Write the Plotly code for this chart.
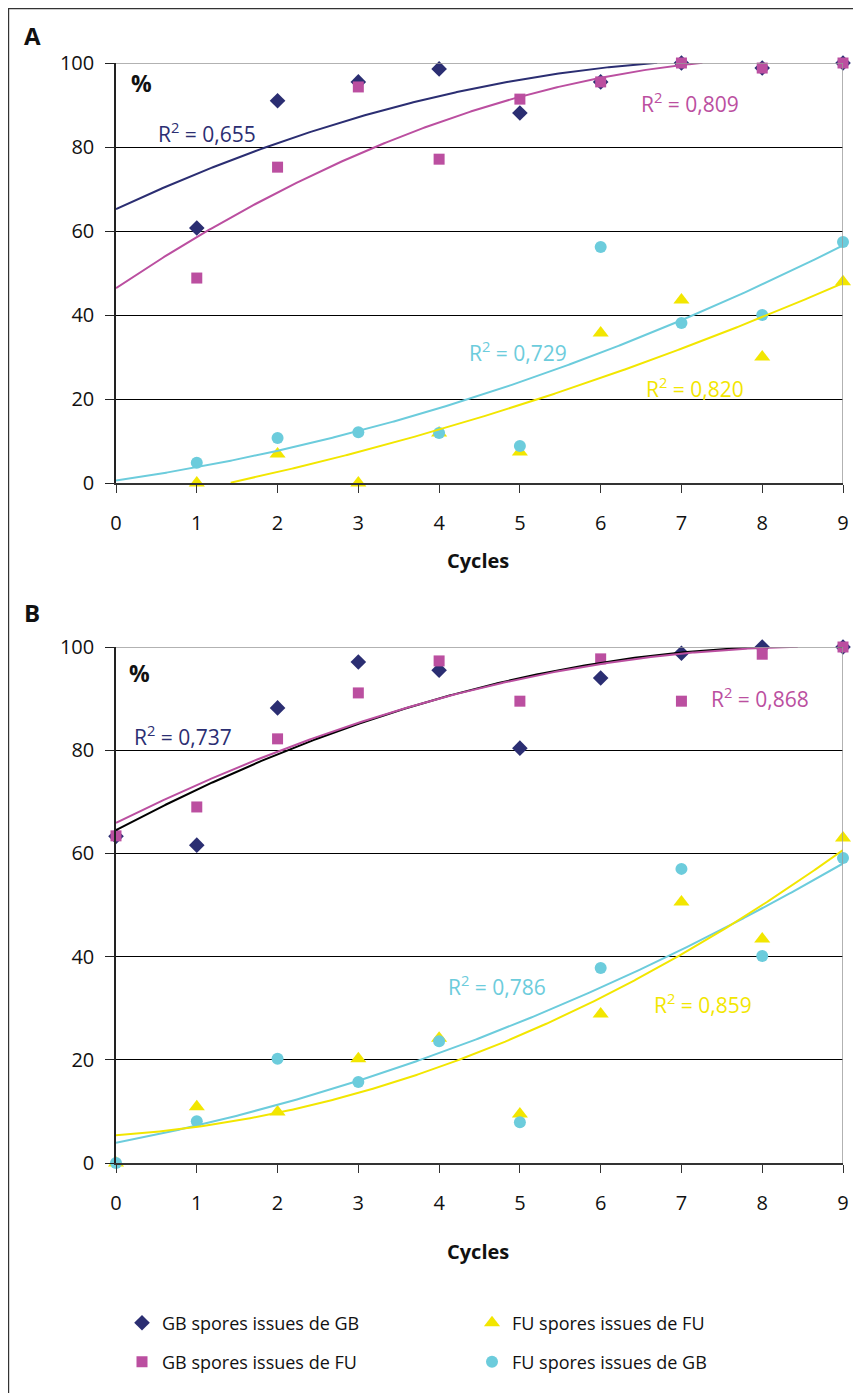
import numpy as np
import plotly.graph_objects as go

# ---------------- data ----------------
cycles_A = [1, 2, 3, 4, 5, 6, 7, 8, 9]
A_gb_gb = [60.7, 91.0, 95.5, 98.6, 88.1, 95.5, 100, 98.8, 100]
A_gb_fu = [48.8, 75.2, 94.3, 77.1, 91.4, 95.5, 100, 98.8, 100]
A_fu_fu = [0, 6.9, 0, 11.9, 7.4, 35.7, 43.6, 30.0, 47.9]
A_fu_gb = [4.8, 10.7, 12.1, 11.9, 8.8, 56.2, 38.1, 40.0, 57.4]

cycles_B = [0, 1, 2, 3, 4, 5, 6, 7, 8, 9]
B_gb_gb = [63.3, 61.6, 88.2, 97.1, 95.5, 80.4, 94.0, 98.8, 100, 100]
B_gb_fu = [63.4, 69.0, 82.2, 91.1, 97.3, 89.5, 97.7, 89.5, 98.6, 100]
B_fu_fu = [0, 10.9, 9.9, 20.2, 24.2, 9.5, 28.9, 50.6, 43.4, 63.0]
B_fu_gb = [0, 8.1, 20.2, 15.7, 23.6, 7.9, 37.8, 57.0, 40.1, 59.1]

# polynomial (order 2) trend-line coefficients [a, b, c]
trend_A_gb_gb = [-0.567, 9.00, 65.2]
trend_A_gb_fu = [-0.762, 12.92, 46.4]
trend_A_fu_gb = [0.383, 2.77, 0.6]
trend_A_fu_fu = [0.275, 3.40, -5.3]
trend_B_gb_gb = [-0.487, 8.33, 64.5]
trend_B_gb_fu = [-0.446, 7.81, 65.9]
trend_B_fu_gb = [0.334, 3.01, 3.9]
trend_B_fu_fu = [0.569, 1.02, 5.4]

r2_A = {"gb_gb": "0,655", "gb_fu": "0,809", "fu_gb": "0,729", "fu_fu": "0,820"}
r2_B = {"gb_gb": "0,737", "gb_fu": "0,868", "fu_gb": "0,786", "fu_fu": "0,859"}

x_ticks = list(range(10))
y_ticks = [0, 20, 40, 60, 80, 100]

names = {
    "gb_gb": "GB spores issues de GB",
    "gb_fu": "GB spores issues de FU",
    "fu_fu": "FU spores issues de FU",
    "fu_gb": "FU spores issues de GB",
}

# ---------------- style ----------------
FONT = "Open Sans"
NAVY = "#2B2E72"
MAG = "#BB4FA0"
CYAN = "#6CCCDC"
YEL = "#F2E600"

style = {
    "gb_gb": dict(symbol="diamond", color=NAVY, size=12),
    "gb_fu": dict(symbol="square", color=MAG, size=11),
    "fu_fu": dict(symbol="triangle-up", color=YEL, size=14),
    "fu_gb": dict(symbol="circle", color=CYAN, size=12),
}
trend_color_A = {"gb_gb": NAVY, "gb_fu": MAG, "fu_gb": CYAN, "fu_fu": YEL}
trend_color_B = {"gb_gb": "#000000", "gb_fu": MAG, "fu_gb": CYAN, "fu_fu": YEL}

fig = go.Figure()

# page body has an 8px margin: figure occupies the window minus that offset
OFF = 8
W, H = 861 - OFF, 1393 - OFF
def px(x):
    return (x - OFF) / W
def py(y):
    return 1 - (y - OFF) / H

def add_panel(xs, series, trends, xa, ya, trend_colors, legend_flags):
    for k in ["gb_gb", "gb_fu", "fu_fu", "fu_gb"]:
        st = style[k]
        show, leg = legend_flags.get(k, (False, None))
        kw = {"legend": leg} if leg else {}
        fig.add_trace(go.Scatter(
            x=xs, y=series[k], mode="markers", name=names[k],
            marker=dict(symbol=st["symbol"], color=st["color"], size=st["size"], line=dict(width=0)),
            xaxis=xa, yaxis=ya, cliponaxis=False, showlegend=show, **kw))
    xf = np.linspace(0, 9, 451)
    for k in ["gb_gb", "gb_fu", "fu_gb", "fu_fu"]:
        yf = np.polyval(trends[k], xf)
        yl = [float(v) if 0 <= v <= 100.05 else None for v in yf]
        fig.add_trace(go.Scatter(
            x=xf, y=yl, mode="lines", line=dict(color=trend_colors[k], width=2),
            xaxis=xa, yaxis=ya, showlegend=False, hoverinfo="skip", cliponaxis=False))

seriesA = {"gb_gb": A_gb_gb, "gb_fu": A_gb_fu, "fu_fu": A_fu_fu, "fu_gb": A_fu_gb}
seriesB = {"gb_gb": B_gb_gb, "gb_fu": B_gb_fu, "fu_fu": B_fu_fu, "fu_gb": B_fu_gb}
trendsA = {"gb_gb": trend_A_gb_gb, "gb_fu": trend_A_gb_fu, "fu_gb": trend_A_fu_gb, "fu_fu": trend_A_fu_fu}
trendsB = {"gb_gb": trend_B_gb_gb, "gb_fu": trend_B_gb_fu, "fu_gb": trend_B_fu_gb, "fu_fu": trend_B_fu_fu}

add_panel(cycles_A, seriesA, trendsA, "x", "y", trend_color_A,
          {"gb_gb": (True, "legend"), "fu_fu": (True, "legend"),
           "gb_fu": (True, "legend2"), "fu_gb": (True, "legend2")})
add_panel(cycles_B, seriesB, trendsB, "x2", "y2", trend_color_B, {})

xdom = [px(116), px(843)]
ydomA = [py(483), py(63)]
ydomB = [py(1163), py(647)]

axis_font = dict(family=FONT, size=20, color="#111")
xcommon = dict(range=[0, 9], tickvals=x_ticks, showgrid=False, zeroline=False,
               showline=True, linecolor="#333", linewidth=1.5,
               ticks="outside", ticklen=8, tickcolor="#333", tickwidth=1.2,
               tickfont=axis_font, ticklabelstandoff=13, fixedrange=True)
ycommon = dict(range=[0, 100], tickvals=y_ticks, showgrid=True, gridcolor="#000", gridwidth=1,
               zeroline=False, showline=True, linecolor="#222", linewidth=1.5,
               ticks="outside", ticklen=9, tickcolor="#222", tickwidth=1.2,
               tickfont=axis_font, ticklabelstandoff=7, fixedrange=True)

leg_common = dict(orientation="h", xanchor="left", yanchor="middle",
                  font=dict(family=FONT, size=18, color="#111"), entrywidth=305,
                  bgcolor="rgba(0,0,0,0)", traceorder="normal")
fig.update_layout(
    width=W, height=H,
    margin=dict(l=0, r=0, t=0, b=0, autoexpand=False),
    paper_bgcolor="white", plot_bgcolor="white",
    font=dict(family=FONT, color="#111"),
    xaxis=dict(domain=xdom, anchor="y", **xcommon),
    yaxis=dict(domain=ydomA, anchor="x", **ycommon),
    xaxis2=dict(domain=xdom, anchor="y2", **xcommon),
    yaxis2=dict(domain=ydomB, anchor="x2", **ycommon),
    legend=dict(x=px(122), y=py(1323), **leg_common),
    legend2=dict(x=px(122), y=py(1362), **leg_common),
    showlegend=True,
)

shapes = []
for xa, ya in [("x", "y"), ("x2", "y2")]:
    shapes.append(dict(type="line", xref=xa, yref=ya, x0=0, x1=9, y0=100, y1=100,
                       line=dict(color="#999", width=1.5)))
    shapes.append(dict(type="line", xref=xa, yref=ya, x0=9, x1=9, y0=0, y1=100,
                       line=dict(color="#999", width=1.5)))
# outer frame (left and top edges visible)
shapes.append(dict(type="rect", xref="paper", yref="paper", x0=px(8.6), x1=px(900), y0=py(1450), y1=py(8.6),
                   line=dict(color="#333", width=1.2), layer="below"))
fig.update_layout(shapes=shapes)

ann = []
def txt(x, y, s, size, color="#111", bold=False, xanchor="center"):
    ann.append(dict(x=px(x), y=py(y), xref="paper", yref="paper", text=f"<b>{s}</b>" if bold else s,
                    showarrow=False, xanchor=xanchor, yanchor="middle",
                    font=dict(family=FONT, size=size, color=color)))

txt(32, 35, "A", 24, bold=True)
txt(32, 612, "B", 24, bold=True)
txt(141, 83, "%", 23, bold=True)
txt(139, 673, "%", 23, bold=True)
txt(478, 560, "Cycles", 20, bold=True)
txt(478, 1251, "Cycles", 20, bold=True)

r2 = lambda v: f"R<sup>2</sup> = {v}"
txt(207, 133, r2(r2_A["gb_gb"]), 21, NAVY)
txt(690, 103, r2(r2_A["gb_fu"]), 21, MAG)
txt(518, 352, r2(r2_A["fu_gb"]), 21, CYAN)
txt(695, 387, r2(r2_A["fu_fu"]), 21, YEL)
txt(183, 735, r2(r2_B["gb_gb"]), 21, NAVY)
txt(760, 697, r2(r2_B["gb_fu"]), 21, MAG)
txt(497, 985, r2(r2_B["fu_gb"]), 21, CYAN)
txt(703, 1003, r2(r2_B["fu_fu"]), 21, YEL)
fig.update_layout(annotations=ann)

fig.write_html("out.html")
